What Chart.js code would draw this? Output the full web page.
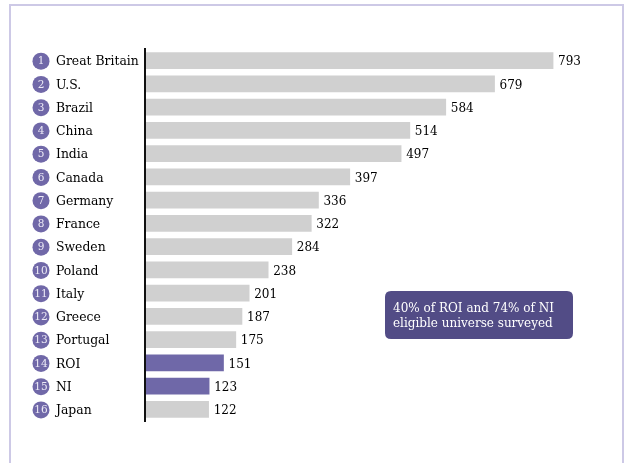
<!DOCTYPE html>
<html>
<head>
<meta charset="utf-8">
<script src="https://cdn.jsdelivr.net/npm/chart.js@4.4.1/dist/chart.umd.min.js"></script>
<style>
  html, body { margin: 0; padding: 0; background: #ffffff; }
  #wrap { position: relative; width: 629px; height: 463px; }
</style>
</head>
<body>
<div id="wrap"><canvas id="chart" width="629" height="463"></canvas></div>
<script>
// Survey sample sizes by country, ranked
const countries = ['Great Britain', 'U.S.', 'Brazil', 'China', 'India', 'Canada', 'Germany', 'France',
                   'Sweden', 'Poland', 'Italy', 'Greece', 'Portugal', 'ROI', 'NI', 'Japan'];
const ranks = [1, 2, 3, 4, 5, 6, 7, 8, 9, 10, 11, 12, 13, 14, 15, 16];
const sampleSizes = [793, 679, 584, 514, 497, 397, 336, 322, 284, 238, 201, 187, 175, 151, 123, 122];
const highlighted = ['ROI', 'NI'];
const noteLines = ['40% of ROI and 74% of NI', 'eligible universe surveyed'];

const FONT = '"DejaVu Serif", "Liberation Serif", serif';
const GREY = '#d0d0d0';
const PURPLE = '#6f68a8';

const barColors = countries.map(c => highlighted.includes(c) ? PURPLE : GREY);

// Frame, rank badges, country names, value labels, axis line and note box
const decorations = {
  id: 'decorations',
  beforeDraw(chart) {
    const ctx = chart.ctx;
    ctx.save();
    ctx.fillStyle = '#ffffff';
    ctx.fillRect(0, 0, chart.width, chart.height);
    ctx.strokeStyle = '#cdc9e6';
    ctx.lineWidth = 2;
    ctx.beginPath();
    ctx.moveTo(10, chart.height + 2);
    ctx.lineTo(10, 5);
    ctx.lineTo(623, 5);
    ctx.lineTo(623, chart.height + 2);
    ctx.stroke();
    ctx.restore();
  },
  afterDatasetsDraw(chart) {
    const ctx = chart.ctx;
    const area = chart.chartArea;
    const yScale = chart.scales.y;
    const meta = chart.getDatasetMeta(0);
    ctx.save();

    countries.forEach((name, i) => {
      const y = yScale.getPixelForValue(i) + 0.5;
      // rank badge
      ctx.fillStyle = '#7068a8';
      ctx.beginPath();
      ctx.arc(41, y, 8.5, 0, Math.PI * 2);
      ctx.fill();
      ctx.fillStyle = '#eceaf6';
      ctx.font = '10.5px ' + FONT;
      ctx.textAlign = 'center';
      ctx.textBaseline = 'middle';
      ctx.fillText(String(ranks[i]), 41, y + 0.5);
      // country name
      ctx.fillStyle = '#000000';
      ctx.font = '12.4px ' + FONT;
      ctx.textAlign = 'left';
      ctx.fillText(name, 56, y + 1);
      // value label
      const bar = meta.data[i];
      ctx.font = '12px ' + FONT;
      ctx.fillText(String(sampleSizes[i]), bar.x + 5, y + 1);
    });

    // vertical axis line
    ctx.strokeStyle = '#111111';
    ctx.lineWidth = 2;
    ctx.beginPath();
    ctx.moveTo(area.left - 1, area.top - 1);
    ctx.lineTo(area.left - 1, area.bottom + 1);
    ctx.stroke();

    // note box
    const bx = 385, by = 291, bw = 188, bh = 48, r = 6;
    ctx.fillStyle = '#524c86';
    ctx.beginPath();
    ctx.moveTo(bx + r, by);
    ctx.lineTo(bx + bw - r, by);
    ctx.quadraticCurveTo(bx + bw, by, bx + bw, by + r);
    ctx.lineTo(bx + bw, by + bh - r);
    ctx.quadraticCurveTo(bx + bw, by + bh, bx + bw - r, by + bh);
    ctx.lineTo(bx + r, by + bh);
    ctx.quadraticCurveTo(bx, by + bh, bx, by + bh - r);
    ctx.lineTo(bx, by + r);
    ctx.quadraticCurveTo(bx, by, bx + r, by);
    ctx.fill();
    ctx.fillStyle = '#ffffff';
    ctx.font = '12px ' + FONT;
    ctx.textAlign = 'left';
    ctx.textBaseline = 'middle';
    ctx.fillText(noteLines[0], 393, 309);
    ctx.fillText(noteLines[1], 393, 324);

    ctx.restore();
  }
};

new Chart(document.getElementById('chart'), {
  type: 'bar',
  data: {
    labels: countries,
    datasets: [{
      data: sampleSizes,
      backgroundColor: barColors,
      borderWidth: 0,
      barThickness: 16
    }]
  },
  options: {
    indexAxis: 'y',
    responsive: false,
    animation: false,
    layout: { padding: { left: 146, top: 49, right: 21, bottom: 42 } },
    scales: {
      x: { display: false, min: 0, max: 900 },
      y: { display: false }
    },
    plugins: {
      legend: { display: false },
      tooltip: { enabled: false }
    }
  },
  plugins: [decorations]
});
</script>
</body>
</html>
